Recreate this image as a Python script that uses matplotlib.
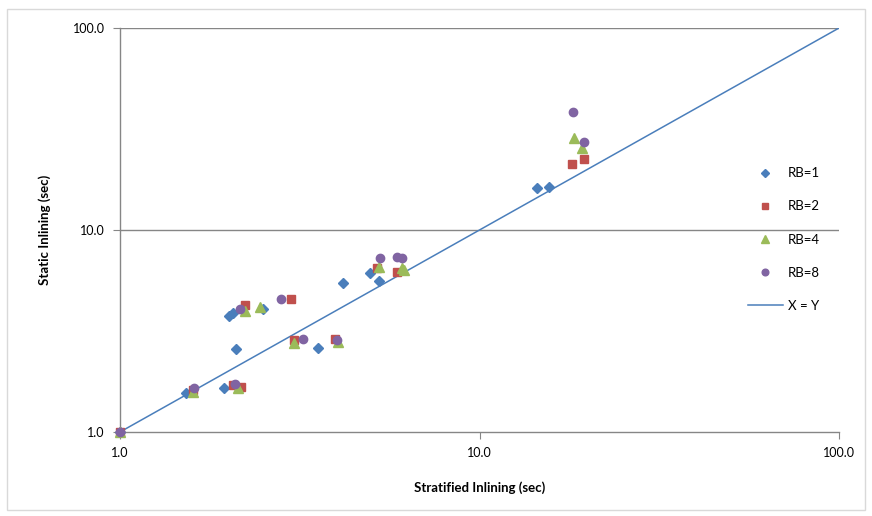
import matplotlib
matplotlib.use("Agg")
import matplotlib.pyplot as plt
from matplotlib.patches import Rectangle

plt.rcParams['font.family'] = ['Lato', 'DejaVu Sans']

# Data (Stratified time, Static time) per RB setting
rb1_x = [1.0, 1.53, 1.95, 2.01, 2.06, 2.10, 2.50, 3.55, 4.17, 4.96, 5.25, 14.45, 15.61]
rb1_y = [1.0, 1.56, 1.65, 3.75, 3.88, 2.58, 4.06, 2.61, 5.47, 6.13, 5.59, 16.14, 16.33]

rb2_x = [1.0, 1.60, 2.06, 2.17, 2.23, 2.99, 3.05, 3.96, 5.19, 5.90, 18.09, 19.53]
rb2_y = [1.0, 1.61, 1.71, 1.67, 4.25, 4.56, 2.85, 2.89, 6.49, 6.20, 21.2, 22.5]

rb4_x = [1.0, 1.60, 2.13, 2.23, 2.45, 3.05, 4.04, 5.25, 6.09, 6.17, 18.3, 19.3]
rb4_y = [1.0, 1.58, 1.65, 3.97, 4.16, 2.76, 2.79, 6.56, 6.49, 6.34, 28.5, 25.5]

rb8_x = [1.0, 1.61, 2.09, 2.16, 2.80, 3.23, 4.02, 5.29, 5.90, 6.09, 18.2, 19.5]
rb8_y = [1.0, 1.65, 1.73, 4.06, 4.56, 2.89, 2.85, 7.27, 7.35, 7.27, 38.4, 27.3]

xy_line = [1.0, 100.0]
ticks = [1, 10, 100]
tick_labels = ["1.0", "10.0", "100.0"]

fig = plt.figure(figsize=(8.72, 5.16), dpi=100)
fig.patches.append(Rectangle((7/872, 1 - 510/516), 858/872, 501/516, transform=fig.transFigure,
                             fill=False, edgecolor='#d9d9d9', linewidth=1))
ax = fig.add_axes([120/872, 1 - 432/516, 719/872, 404/516])
ax.set_xscale('log')
ax.set_yscale('log')
ax.set_xlim(1, 100)
ax.set_ylim(1, 100)

grid_c = '#868686'
for v in [10, 100]:
    ax.axhline(v, color=grid_c, linewidth=1, zorder=0)

blue = '#4A7EBB'
ax.plot(rb1_x, rb1_y, 'D', color=blue, ms=5.5, mec=blue, label='RB=1', zorder=3, clip_on=False)
ax.plot(rb2_x, rb2_y, 's', color='#C0504D', ms=5.5, mec='#C0504D', label='RB=2', zorder=3, clip_on=False)
ax.plot(rb4_x, rb4_y, '^', color='#9BBB59', ms=6.5, mec='#9BBB59', label='RB=4', zorder=3, clip_on=False)
ax.plot(rb8_x, rb8_y, 'o', color='#8064A2', ms=6, mec='#8064A2', label='RB=8', zorder=3, clip_on=False)
ax.plot(xy_line, xy_line, '-', color=blue, linewidth=1.1, label='X = Y', zorder=2)

for s in ['top', 'right']:
    ax.spines[s].set_visible(False)
for s in ['left', 'bottom']:
    ax.spines[s].set_color(grid_c)
    ax.spines[s].set_linewidth(1)

ax.set_xticks(ticks)
ax.set_xticklabels(tick_labels)
ax.set_yticks(ticks)
ax.set_yticklabels(tick_labels)
ax.minorticks_off()
ax.tick_params(axis='both', which='major', direction='out', length=5, color=grid_c,
               labelsize=9, labelcolor='#000000', pad=6)

ax.set_xlabel('Stratified Inlining (sec)', fontsize=9.5, fontweight='bold', labelpad=16)
ax.set_ylabel('Static Inlining (sec)', fontsize=9.5, fontweight='bold', labelpad=16)

leg = ax.legend(loc='upper left', bbox_to_anchor=(623/719, (432 - 162) / 404),
                frameon=False, fontsize=9.5, handlelength=2.6, labelspacing=1.6,
                handletextpad=0.4, borderaxespad=0, markerscale=0.8)

fig.savefig('out.png', dpi=100)
